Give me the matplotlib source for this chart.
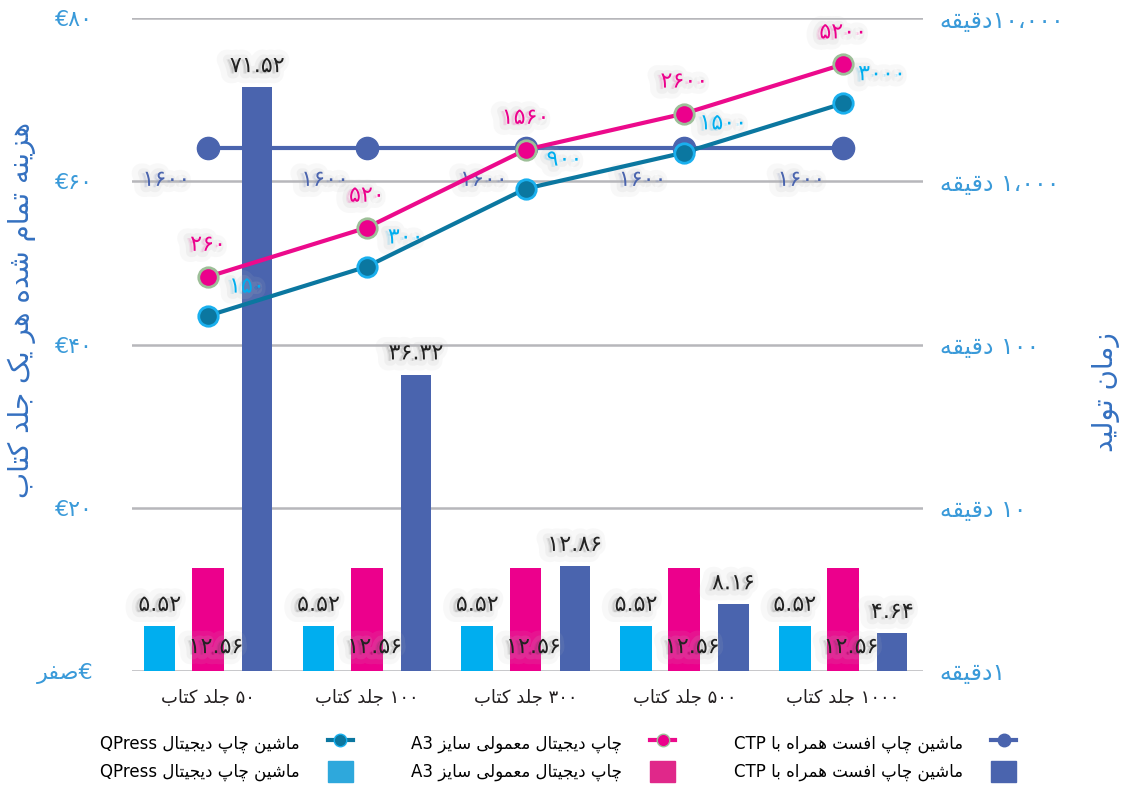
import re
import matplotlib
matplotlib.use('Agg')
import matplotlib.pyplot as plt
import matplotlib.patheffects as pe
from matplotlib.lines import Line2D
from matplotlib.patches import Patch
import numpy as np

# data
categories = ['۵۰ جلد کتاب', '۱۰۰ جلد کتاب', '۳۰۰ جلد کتاب', '۵۰۰ جلد کتاب', '۱۰۰۰ جلد کتاب']
qpress_cost = [5.52, 5.52, 5.52, 5.52, 5.52]
a3_cost = [12.56, 12.56, 12.56, 12.56, 12.56]
ctp_cost = [71.52, 36.32, 12.86, 8.16, 4.64]
qpress_time = [150, 300, 900, 1500, 3000]
a3_time = [260, 520, 1560, 2600, 5200]
ctp_time = [1600, 1600, 1600, 1600, 1600]

series_names = ['ماشین چاپ دیجیتال QPress', 'چاپ دیجیتال معمولی سایز A3', 'ماشین چاپ افست همراه با CTP']
left_ticks = [0, 20, 40, 60, 80]
left_ticklabels = ['€صفر', '€۲۰', '€۴۰', '€۶۰', '€۸۰']
right_ticks = [1, 10, 100, 1000, 10000]
right_ticklabels = ['۱دقیقه', '۱۰ دقیقه', '۱۰۰ دقیقه', '۱،۰۰۰ دقیقه', '۱۰،۰۰۰دقیقه']
left_title = 'هزینه تمام شده هر یک جلد کتاب'
right_title = 'زمان تولید'

# colours
c_cyan = '#00AEEF'
c_pink = '#EC008C'
c_blue = '#4A64AE'
c_teal = '#0B77A0'
c_tick = '#3A9AD9'
c_title = '#3470C0'

# --- minimal Persian shaping (matplotlib has no bidi / joining) ---
FORMS = {
    'ا': ('\uFE8D', '\uFE8E', None, None),
    'د': ('\uFEA9', '\uFEAA', None, None),
    'ر': ('\uFEAD', '\uFEAE', None, None),
    'ز': ('\uFEAF', '\uFEB0', None, None),
    'و': ('\uFEED', '\uFEEE', None, None),
    'ب': ('\uFE8F', '\uFE90', '\uFE91', '\uFE92'),
    'ت': ('\uFE95', '\uFE96', '\uFE97', '\uFE98'),
    'ج': ('\uFE9D', '\uFE9E', '\uFE9F', '\uFEA0'),
    'س': ('\uFEB1', '\uFEB2', '\uFEB3', '\uFEB4'),
    'ش': ('\uFEB5', '\uFEB6', '\uFEB7', '\uFEB8'),
    'ص': ('\uFEB9', '\uFEBA', '\uFEBB', '\uFEBC'),
    'ع': ('\uFEC9', '\uFECA', '\uFECB', '\uFECC'),
    'ف': ('\uFED1', '\uFED2', '\uFED3', '\uFED4'),
    'ق': ('\uFED5', '\uFED6', '\uFED7', '\uFED8'),
    'ل': ('\uFEDD', '\uFEDE', '\uFEDF', '\uFEE0'),
    'م': ('\uFEE1', '\uFEE2', '\uFEE3', '\uFEE4'),
    'ن': ('\uFEE5', '\uFEE6', '\uFEE7', '\uFEE8'),
    'ه': ('\uFEE9', '\uFEEA', '\uFEEB', '\uFEEC'),
    'ی': ('\uFBFC', '\uFBFD', '\uFBFE', '\uFBFF'),
    'ک': ('\uFB8E', '\uFB8F', '\uFB90', '\uFB91'),
    'پ': ('\uFB56', '\uFB57', '\uFB58', '\uFB59'),
    'چ': ('\uFB7A', '\uFB7B', '\uFB7C', '\uFB7D'),
}


def shape(text):
    out = []
    for i, ch in enumerate(text):
        if ch not in FORMS:
            out.append(ch)
            continue
        prev = text[i - 1] if i > 0 else ''
        nxt = text[i + 1] if i + 1 < len(text) else ''
        join_prev = prev in FORMS and FORMS[prev][2] is not None
        join_next = nxt in FORMS and FORMS[ch][2] is not None
        iso, fin, ini, med = FORMS[ch]
        if join_prev and join_next:
            out.append(med)
        elif join_prev:
            out.append(fin)
        elif join_next:
            out.append(ini)
        else:
            out.append(iso)
    return ''.join(out)


def fa(text):
    runs = re.findall(r'[0-9A-Za-z۰-۹.,،€]+|.', shape(text))
    return ''.join(reversed(runs))


def fa_num(v, fmt='{}'):
    s = fmt.format(v)
    return s.translate(str.maketrans('0123456789', '۰۱۲۳۴۵۶۷۸۹'))


plt.rcParams['font.family'] = ['DejaVu Sans']

# soft grey drop shadow behind the data labels
shadow = [pe.Stroke(linewidth=14, foreground='#bdbdbd', alpha=0.10, offset=(-3, -1)),
          pe.Stroke(linewidth=7, foreground='#bdbdbd', alpha=0.14, offset=(-2, -1)),
          pe.Normal()]

fig = plt.figure(figsize=(11.34, 7.87), dpi=100)
ax = fig.add_axes([0.1164, 0.1474, 0.6976, 0.8297])

x = np.arange(len(categories))
w = 0.2
ax.bar(x - 0.305, qpress_cost, w, color=c_cyan, zorder=2)
ax.bar(x, a3_cost, w, color=c_pink, zorder=2)
ax.bar(x + 0.31, ctp_cost, 0.19, color=c_blue, zorder=2)

for i in range(len(categories)):
    ax.annotate(fa_num(qpress_cost[i], '{:.2f}'), (x[i] - 0.305, qpress_cost[i]),
                xytext=(0, 8), textcoords='offset points', ha='center', va='bottom',
                fontsize=16, color='#222222', path_effects=shadow, zorder=5)
    ax.annotate(fa_num(a3_cost[i], '{:.2f}'), (x[i] + 0.05, 0),
                xytext=(0, 10), textcoords='offset points', ha='center', va='bottom',
                fontsize=16, color='#222222', path_effects=shadow, zorder=5)
    ax.annotate(fa_num(ctp_cost[i], '{:.2f}'), (x[i] + 0.31, ctp_cost[i]),
                xytext=(0, 8), textcoords='offset points', ha='center', va='bottom',
                fontsize=16, color='#222222', path_effects=shadow, zorder=5)

ax.set_xlim(-0.479, 4.504)
ax.set_ylim(0, 80)
ax.set_yticks(left_ticks)
ax.set_yticklabels([fa(t) for t in left_ticklabels], color=c_tick, fontsize=16)
ax.set_xticks(x)
ax.set_xticklabels([fa(c) for c in categories], fontsize=13, color='#231F20')
ax.tick_params(axis='y', length=0, pad=28)
ax.tick_params(axis='x', length=0, pad=13)
ax.yaxis.grid(True, color='#B7B7BB', linewidth=1.8, zorder=0)
ax.set_axisbelow(True)
for s in ax.spines.values():
    s.set_visible(False)

ax2 = ax.twinx()
ax2.set_yscale('log')
ax2.set_ylim(1, 10000)
ax2.plot(x, ctp_time, color=c_blue, lw=3, marker='o', ms=16, mfc=c_blue, mec=c_blue, zorder=3)
ax2.plot(x, qpress_time, color=c_teal, lw=3, marker='o', ms=14, mfc=c_teal, mec='#1AB0EE', mew=2, zorder=4)
ax2.plot(x, a3_time, color='#EC0A8C', lw=3, marker='o', ms=14, mfc=c_pink, mec='#9DBF98', mew=2, zorder=5)

for i in range(len(categories)):
    ax2.annotate(fa_num(ctp_time[i]), (x[i], ctp_time[i]), xytext=(-30, -23),
                 textcoords='offset points', ha='center', va='center',
                 fontsize=16, color=c_blue, path_effects=shadow)
    ax2.annotate(fa_num(a3_time[i]), (x[i], a3_time[i]), xytext=(0, 23),
                 textcoords='offset points', ha='center', va='center',
                 fontsize=16, color=c_pink, path_effects=shadow)
    ax2.annotate(fa_num(qpress_time[i]), (x[i], qpress_time[i]), xytext=(28, 21),
                 textcoords='offset points', ha='center', va='center',
                 fontsize=16, color=c_cyan, path_effects=shadow)

ax2.set_yticks(right_ticks)
ax2.set_yticklabels([fa(t) for t in right_ticklabels], color=c_tick, fontsize=17)
ax2.yaxis.set_minor_locator(matplotlib.ticker.NullLocator())
ax2.tick_params(axis='y', length=0, pad=12)
for s in ax2.spines.values():
    s.set_visible(False)

# axis titles (both read bottom-to-top)
fig.text(0.0194, 0.606, fa(left_title), color=c_title, fontsize=20, rotation=90,
         ha='center', va='center')
fig.text(0.975, 0.502, fa(right_title), color=c_title, fontsize=20, rotation=90,
         ha='center', va='center')

handles = [
    Line2D([], [], color=c_teal, lw=3, marker='o', ms=9, mfc=c_teal, mec='#1AB0EE'),
    Patch(color='#2EA8DC'),
    Line2D([], [], color='#EC0A8C', lw=3, marker='o', ms=9, mfc=c_pink, mec='#9DBF98'),
    Patch(color='#E0288A'),
    Line2D([], [], color=c_blue, lw=3, marker='o', ms=9, mfc=c_blue, mec=c_blue),
    Patch(color=c_blue),
]
labels = [fa(series_names[0]), fa(series_names[0]), fa(series_names[1]),
          fa(series_names[1]), fa(series_names[2]), fa(series_names[2])]
fig.legend(handles, labels, ncol=3, markerfirst=False, loc='center',
           bbox_to_anchor=(0.492, 0.038), frameon=False, fontsize=12,
           columnspacing=3.5, handlelength=1.5, handleheight=1.5, labelspacing=0.5,
           handletextpad=1.7)

fig.savefig('out.png', dpi=100)
